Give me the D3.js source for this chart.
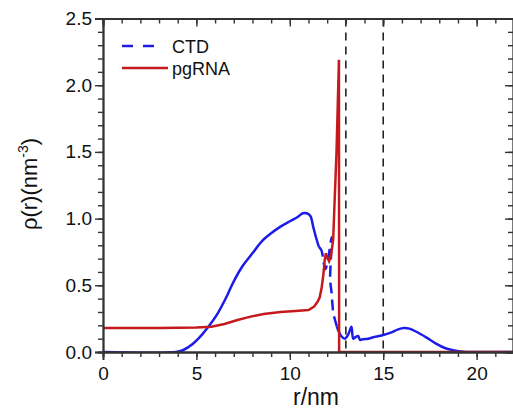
<!DOCTYPE html>
<html>
<head>
<meta charset="utf-8">
<script src="https://cdn.jsdelivr.net/npm/d3@7"></script>
<style>
body { margin: 0; background: #fff; }
text { font-family: "Liberation Sans", Arial, sans-serif; fill: #111; }
</style>
</head>
<body>
<div id="chart"></div>
<script>
// pgRNA density, [r, rho]
let pgrna = [[0,0.18],[3,0.18],[5,0.183],[5.8,0.19],[6.5,0.21],[7.2,0.24],[7.9,0.265],[8.6,0.285],[9.5,0.3],[10.3,0.307],[11.0,0.315],
  [11.3,0.34],[11.5,0.38],[11.6,0.41],[11.7,0.48],[11.78,0.56],[11.87,0.69],[11.93,0.74],[12.0,0.71],[12.1,0.68],[12.2,0.72],
  [12.32,0.84],[12.4,1.14],[12.5,1.5],[12.63,2.19],[12.64,0],[22,0]];
// CTD density, split where Origin draws it dashed
let ctd_inner = [[0,0],[3.9,0],[4.3,0.015],[4.8,0.06],[5.3,0.13],[5.7,0.2],[6.1,0.28],[6.6,0.41],[7.0,0.53],[7.5,0.65],[8.0,0.74],
  [8.5,0.83],[9.0,0.89],[9.5,0.94],[10.0,0.98],[10.4,1.01],[10.7,1.04],[10.9,1.04],[11.1,1.02],[11.25,0.94],[11.4,0.86],[11.55,0.79]];
let ctd_mid = [[11.55,0.79],[11.7,0.76],[11.8,0.68],[11.9,0.62],[12.05,0.7],[12.24,0.86],[12.2,0.7],[12.16,0.54],[12.24,0.44],
  [12.28,0.36],[12.33,0.29],[12.42,0.24],[12.52,0.19]];
let ctd_outer = [[12.52,0.19],[12.6,0.16],[12.75,0.12],[12.94,0.10],[13.12,0.13],[13.3,0.19],[13.39,0.10],[13.5,0.11],[13.66,0.12],
  [13.76,0.09],[13.9,0.095],[14.2,0.1],[14.6,0.115],[15.0,0.127],[15.4,0.145],[15.8,0.17],[16.1,0.18],[16.4,0.175],[16.8,0.15],
  [17.3,0.11],[17.8,0.065],[18.3,0.03],[18.8,0.012],[19.3,0.002],[19.6,0],[22,0]];
let guides = [13, 15];
let x_ticks = [0, 5, 10, 15, 20];
let y_ticks = [0, 0.5, 1.0, 1.5, 2.0, 2.5];

let svg = d3.select("#chart").append("svg").attr("width", 513).attr("height", 413);

let x_scale = d3.scaleLinear().domain([0, 22]).range([103, 514]);
let y_scale = d3.scaleLinear().domain([0, 2.5]).range([352, 18.5]);

svg.append("clipPath").attr("id", "clip").append("rect")
  .attr("x", 103).attr("y", 18.5).attr("width", 411).attr("height", 333.5);

let plot = svg.append("g").attr("clip-path", "url(#clip)");

// dashed guide lines
plot.selectAll(".guide").data(guides).enter().append("line")
  .attr("x1", d => x_scale(d)).attr("x2", d => x_scale(d))
  .attr("y1", y_scale(2.5)).attr("y2", y_scale(0))
  .style("stroke", "#222").style("stroke-width", 1.6).style("stroke-dasharray", "8,6");

let line = d3.line().x(d => x_scale(d[0])).y(d => y_scale(d[1])).curve(d3.curveCatmullRom.alpha(0.5));
let line_lin = d3.line().x(d => x_scale(d[0])).y(d => y_scale(d[1]));

plot.append("path").datum(ctd_inner).attr("d", line)
  .style("fill", "none").style("stroke", "#1c1ce8").style("stroke-width", 2.5);
plot.append("path").datum(ctd_mid).attr("d", line)
  .style("fill", "none").style("stroke", "#1c1ce8").style("stroke-width", 2.5).style("stroke-dasharray", "11,6");
plot.append("path").datum(ctd_outer).attr("d", line)
  .style("fill", "none").style("stroke", "#1c1ce8").style("stroke-width", 2.5);
plot.append("path").datum(pgrna).attr("d", line_lin)
  .style("fill", "none").style("stroke", "#c41a1e").style("stroke-width", 2.5);

// axes, ticks mirrored like Origin
let x_bottom = d3.axisBottom(x_scale).tickValues(x_ticks).tickSize(8).tickFormat(d3.format("d"));
let x_minor = d3.axisBottom(x_scale).tickValues(d3.range(0, 23, 1)).tickSize(5).tickFormat("");
let x_top = d3.axisBottom(x_scale).tickValues(x_ticks).tickSize(8).tickFormat("");
let y_left = d3.axisLeft(y_scale).tickValues(y_ticks).tickSize(8).tickFormat(d3.format(".1f"));
let y_minor = d3.axisLeft(y_scale).tickValues(d3.range(0, 2.51, 0.1)).tickSize(5).tickFormat("");
let y_right = d3.axisLeft(y_scale).tickValues(y_ticks).tickSize(8).tickFormat("");

function style_axis(g) {
  g.selectAll("path").style("stroke", "#333").style("stroke-width", 1.8);
  g.selectAll("line").style("stroke", "#333").style("stroke-width", 1.4);
  g.selectAll("text").style("font-size", "19px").style("fill", "#111")
    .style("font-family", "'Liberation Sans', Arial, sans-serif");
}

svg.append("g").attr("transform", "translate(0,352)").call(x_minor).call(style_axis);
svg.append("g").attr("transform", "translate(0,352)").call(x_bottom).call(style_axis)
  .selectAll("text").attr("dy", "0.9em");
svg.append("g").attr("transform", "translate(0,18.5)").call(x_minor).call(style_axis);
svg.append("g").attr("transform", "translate(0,18.5)").call(x_top).call(style_axis);
svg.append("g").attr("transform", "translate(103,0)").call(y_minor).call(style_axis);
svg.append("g").attr("transform", "translate(103,0)").call(y_left).call(style_axis)
  .selectAll("text").attr("x", -11);
svg.append("g").attr("transform", "translate(513,0)").call(y_minor).call(style_axis);
svg.append("g").attr("transform", "translate(513,0)").call(y_right).call(style_axis);

// axis titles
svg.append("text").attr("x", 316).attr("y", 405).attr("text-anchor", "middle")
  .style("font-size", "23px").text("r/nm");
let ylab = svg.append("text").attr("transform", "translate(37,184) rotate(-90)")
  .attr("text-anchor", "middle").style("font-size", "22px");
ylab.append("tspan").text("\u03C1(r)(nm");
ylab.append("tspan").attr("dy", -9).style("font-size", "14px").text("-3");
ylab.append("tspan").attr("dy", 9).text(")");

// legend
svg.append("line").attr("x1", 122).attr("x2", 158).attr("y1", 46).attr("y2", 46)
  .style("stroke", "#1c1ce8").style("stroke-width", 2.5).style("stroke-dasharray", "11,10");
svg.append("text").attr("x", 172).attr("y", 52.5).style("font-size", "18px").text("CTD");
svg.append("line").attr("x1", 122).attr("x2", 168).attr("y1", 68).attr("y2", 68)
  .style("stroke", "#c41a1e").style("stroke-width", 2.5);
svg.append("text").attr("x", 172).attr("y", 74.5).style("font-size", "18px").text("pgRNA");
</script>
</body>
</html>
